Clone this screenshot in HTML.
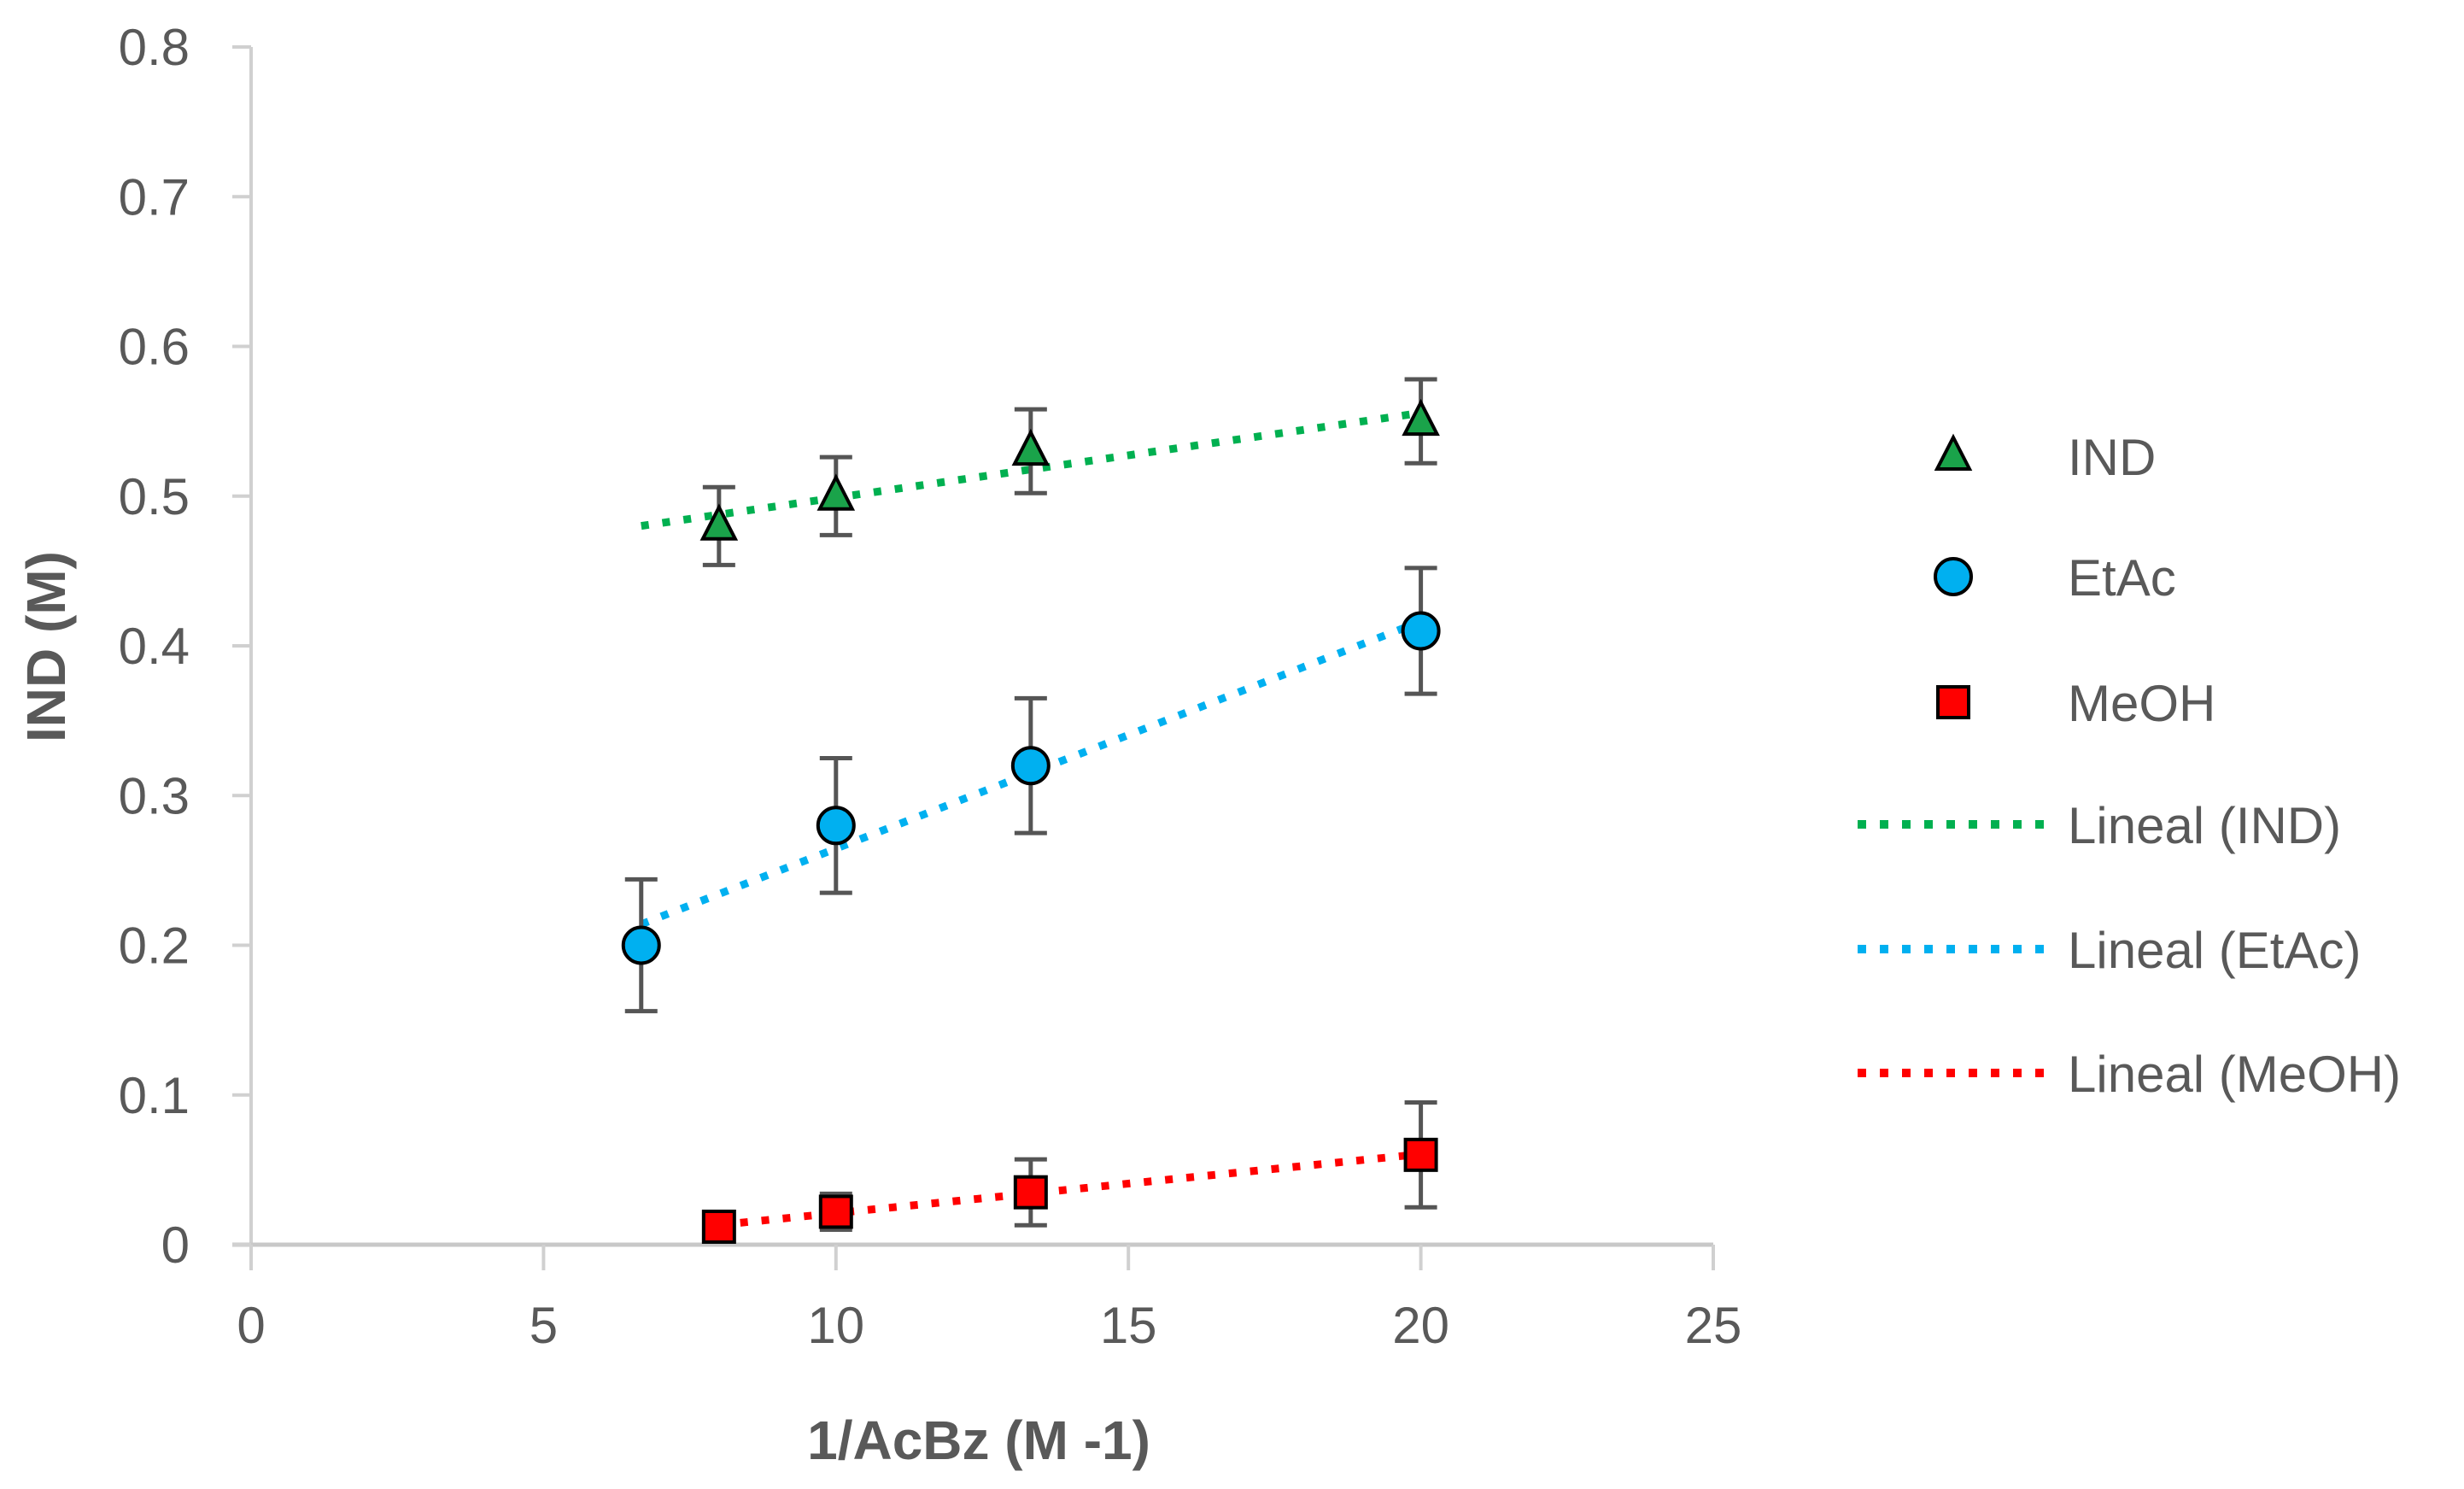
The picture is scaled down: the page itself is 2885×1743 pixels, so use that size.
<!DOCTYPE html>
<html><head><meta charset="utf-8"><style>
html,body{margin:0;padding:0;background:#fff;}
svg{display:block;font-family:"Liberation Sans",sans-serif;}
</style></head><body>
<svg id="chart" width="2885" height="1743" viewBox="0 0 2885 1743" xmlns="http://www.w3.org/2000/svg">
<g id="axes"></g>
<g id="marks"></g>
<g id="legend"></g>
<text x="1146" y="1708" text-anchor="middle" font-size="64" font-weight="bold" fill="#595959">1/AcBz (M -1)</text>
<text transform="translate(76,757) rotate(-90)" text-anchor="middle" font-size="64" font-weight="bold" fill="#595959">IND (M)</text>
</svg>
<script>
const xTicks=[0,5,10,15,20,25];
const yTicks=[0,0.1,0.2,0.3,0.4,0.5,0.6,0.7,0.8];
const yTickLabels=["0","0.1","0.2","0.3","0.4","0.5","0.6","0.7","0.8"];
const indX=[8,10,13.33,20];
const indY=[0.48,0.50,0.53,0.55];
const indErr=[0.026,0.026,0.028,0.028];
const etX=[6.67,10,13.33,20];
const etY=[0.20,0.28,0.32,0.41];
const etErr=[0.044,0.045,0.045,0.042];
const meX=[8,10,13.33,20];
const meY=[0.012,0.022,0.035,0.06];
const meErr=[0.008,0.012,0.022,0.035];
const legendLabels=["IND","EtAc","MeOH","Lineal (IND)","Lineal (EtAc)","Lineal (MeOH)"];

const NS="http://www.w3.org/2000/svg";
const X0=294,X1=2006,Y0=1457,Y1=55;
const sx=v=>X0+(v-0)/(25-0)*(X1-X0);
const sy=v=>Y0-(v-0)/(0.8-0)*(Y0-Y1);
function mk(tag,parent,attrs){const e=document.createElementNS(NS,tag);for(const k in attrs)e.setAttribute(k,attrs[k]);parent.appendChild(e);return e;}
const axes=document.getElementById('axes'),marks=document.getElementById('marks'),legend=document.getElementById('legend');

let e=mk('line',axes,{x1:X0,y1:Y0,x2:X0,y2:Y1,stroke:'#d0d0d0','stroke-width':4});


e=mk('line',axes,{x1:X0-22,y1:Y0,x2:X1,y2:Y0,stroke:'#c8c8c8','stroke-width':5});


yTicks.forEach((v,i)=>{
  let t=mk('line',axes,{x1:X0-22,y1:sy(v),x2:X0,y2:sy(v),stroke:'#d0d0d0','stroke-width':4});
  
  
  let l=mk('text',axes,{x:222,y:sy(v)+21,'text-anchor':'end','font-size':60,fill:'#595959'});
  l.textContent=yTickLabels[i];
  
  
});
xTicks.forEach(v=>{
  let t=mk('line',axes,{x1:sx(v),y1:Y0,x2:sx(v),y2:Y0+30,stroke:'#d0d0d0','stroke-width':4});
  
  
  let l=mk('text',axes,{x:sx(v),y:1572,'text-anchor':'middle','font-size':60,fill:'#595959'});
  l.textContent=String(v);
  
  
});

function fit(xs,ys){const n=xs.length;let mx=0,my=0;for(let i=0;i<n;i++){mx+=xs[i];my+=ys[i];}mx/=n;my/=n;let a=0,b=0;for(let i=0;i<n;i++){a+=(xs[i]-mx)*(ys[i]-my);b+=(xs[i]-mx)**2;}const m=a/b;return [m,my-m*mx];}
const series=[
 {name:'ind',xs:indX,ys:indY,err:indErr,fill:'#1aa34a',line:'#00b050',shape:'tri',tx0:6.67,tx1:20},
 {name:'etac',xs:etX,ys:etY,err:etErr,fill:'#00b0f0',line:'#00b0f0',shape:'circ',tx0:6.67,tx1:20},
 {name:'meoh',xs:meX,ys:meY,err:meErr,fill:'#ff0000',line:'#ff0000',shape:'sq',tx0:8,tx1:20}
];
function marker(parent,shape,cx,cy,fill){
  if(shape==='tri')return mk('polygon',parent,{points:`${cx},${cy-22} ${cx-19},${cy+15} ${cx+19},${cy+15}`,fill:fill,stroke:'#000','stroke-width':4});
  if(shape==='circ')return mk('circle',parent,{cx:cx,cy:cy,r:21,fill:fill,stroke:'#000','stroke-width':4});
  return mk('rect',parent,{x:cx-18,y:cy-18,width:36,height:36,fill:fill,stroke:'#000','stroke-width':4});
}
series.forEach(s=>{
  const [m,b]=fit(s.xs,s.ys);
  let tl=mk('line',marks,{x1:sx(s.tx0),y1:sy(m*s.tx0+b),x2:sx(s.tx1),y2:sy(m*s.tx1+b),stroke:s.line,'stroke-width':9,'stroke-dasharray':'9 16'});
  
  
  s.xs.forEach((x,i)=>{
    const cx=sx(x),top=sy(s.ys[i]+s.err[i]),bot=sy(s.ys[i]-s.err[i]);
    let g=mk('g',marks,{});
    
    
    mk('line',g,{x1:cx,y1:top,x2:cx,y2:bot,stroke:'#555','stroke-width':5});
    mk('line',g,{x1:cx-19,y1:top,x2:cx+19,y2:top,stroke:'#555','stroke-width':5});
    mk('line',g,{x1:cx-19,y1:bot,x2:cx+19,y2:bot,stroke:'#555','stroke-width':5});
  });
  s.xs.forEach((x,i)=>{
    let p=marker(marks,s.shape,sx(x),sy(s.ys[i]),s.fill);
    
    
  });
});
const legY=[534,675,822,965,1111,1256];
legendLabels.forEach((lab,i)=>{
  let g=mk('g',legend,{});
  
  
  if(i<3){marker(g,series[i].shape,2287,legY[i],series[i].fill);}
  else{mk('line',g,{x1:2175,y1:legY[i],x2:2395,y2:legY[i],stroke:series[i-3].line,'stroke-width':10,'stroke-dasharray':'10 16'});}
  let t=mk('text',g,{x:2421,y:legY[i]+22,'font-size':60,fill:'#595959'});
  t.textContent=lab;
});
</script>
</body></html>
